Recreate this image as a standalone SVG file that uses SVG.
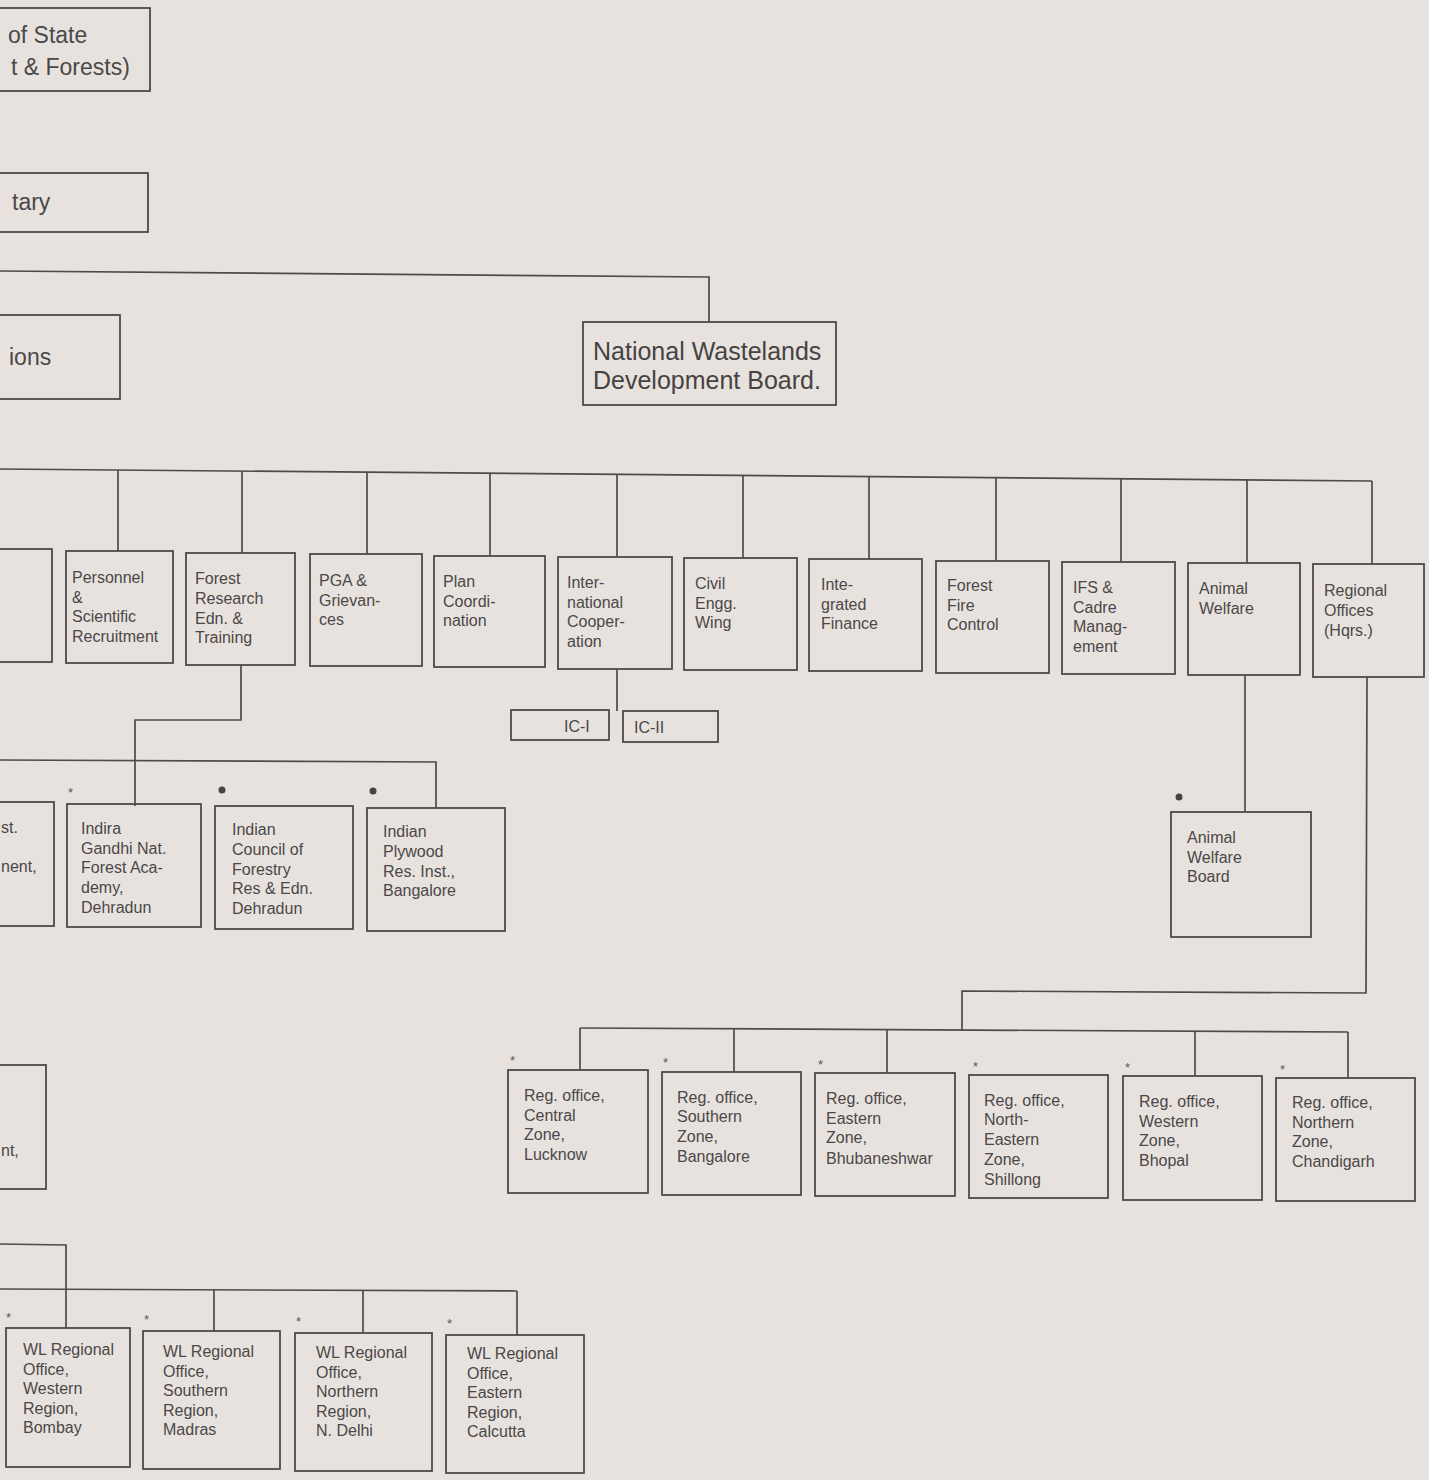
<svg xmlns="http://www.w3.org/2000/svg" width="1429" height="1480" viewBox="0 0 1429 1480">
<style>
.bg{fill:#e8e2de}
.box{fill:none;stroke:#4d4b4b;stroke-width:1.8}
.ln{fill:none;stroke:#4d4b4b;stroke-width:1.7}
.t{font-family:"Liberation Sans",Arial,sans-serif;font-size:16px;fill:#4a4848}
.tl{font-family:"Liberation Sans",Arial,sans-serif;font-size:23px;fill:#4a4848}
.tx{font-family:"Liberation Sans",Arial,sans-serif;font-size:25px;fill:#454343}
.ast{font-family:"Liberation Sans",Arial,sans-serif;font-size:13px;fill:#5a5858}
.dot{fill:#444}
</style>
<rect class="bg" x="0" y="0" width="1429" height="1480"/>

<g id="connectors">
  <polyline class="ln" points="0,271 709,277 709,322"/>
  <line class="ln" x1="0" y1="469" x2="1372" y2="481"/>
  <line class="ln" x1="118" y1="470" x2="118" y2="551"/>
  <line class="ln" x1="242" y1="471" x2="242" y2="553"/>
  <line class="ln" x1="367" y1="472" x2="367" y2="554"/>
  <line class="ln" x1="490" y1="473" x2="490" y2="556"/>
  <line class="ln" x1="617" y1="474" x2="617" y2="557"/>
  <line class="ln" x1="743" y1="475.5" x2="743" y2="558"/>
  <line class="ln" x1="869" y1="476.6" x2="869" y2="559"/>
  <line class="ln" x1="996" y1="477.7" x2="996" y2="561"/>
  <line class="ln" x1="1121" y1="478.8" x2="1121" y2="562"/>
  <line class="ln" x1="1247" y1="479.9" x2="1247" y2="563"/>
  <line class="ln" x1="1372" y1="481" x2="1372" y2="564"/>
  <line class="ln" x1="617" y1="669" x2="617" y2="711"/>
  <polyline class="ln" points="241,665 241,720 135,720 135,806"/>
  <polyline class="ln" points="0,760 436,762 436,808"/>
  <line class="ln" x1="1245" y1="675" x2="1245" y2="812"/>
  <polyline class="ln" points="1367,677 1366,993 962,991 962,1030"/>
  <line class="ln" x1="580" y1="1028" x2="1348" y2="1032"/>
  <line class="ln" x1="580" y1="1028" x2="580" y2="1070"/>
  <line class="ln" x1="734" y1="1029" x2="734" y2="1072"/>
  <line class="ln" x1="887" y1="1029.5" x2="887" y2="1073"/>
  <line class="ln" x1="1195" y1="1031" x2="1195" y2="1076"/>
  <line class="ln" x1="1348" y1="1032" x2="1348" y2="1078"/>
  <polyline class="ln" points="0,1244 66,1245 66,1328"/>
  <line class="ln" x1="0" y1="1289" x2="517" y2="1291"/>
  <line class="ln" x1="214" y1="1289.5" x2="214" y2="1331"/>
  <line class="ln" x1="363" y1="1290" x2="363" y2="1333"/>
  <line class="ln" x1="517" y1="1291" x2="517" y2="1335"/>
</g>

<g id="n-minister">
  <rect class="box" x="-10" y="8" width="160" height="83"/>
  <text class="tl" x="8" y="43">of State</text>
  <text class="tl" x="11" y="75">t &amp; Forests)</text>
</g>
<g id="n-secretary">
  <rect class="box" x="-10" y="173" width="158" height="59"/>
  <text class="tl" x="12" y="210">tary</text>
</g>
<g id="n-divisions">
  <rect class="box" x="-10" y="315" width="130" height="84"/>
  <text class="tl" x="9" y="365">ions</text>
</g>
<g id="n-nwdb">
  <rect class="box" x="583" y="322" width="253" height="83"/>
  <text class="tx" x="593" y="360">National Wastelands</text>
  <text class="tx" x="593" y="389">Development Board.</text>
</g>

<g id="n-partial1"><rect class="box" x="-10" y="549" width="62" height="113"/></g>
<g id="n-personnel">
  <rect class="box" x="66" y="551" width="107" height="112"/>
  <text class="t" x="72" y="583">Personnel</text>
  <text class="t" x="72" y="603">&amp;</text>
  <text class="t" x="72" y="622">Scientific</text>
  <text class="t" x="72" y="642">Recruitment</text>
</g>
<g id="n-forestresearch">
  <rect class="box" x="186" y="553" width="109" height="112"/>
  <text class="t" x="195" y="584">Forest</text>
  <text class="t" x="195" y="604">Research</text>
  <text class="t" x="195" y="624">Edn. &amp;</text>
  <text class="t" x="195" y="643">Training</text>
</g>
<g id="n-pga">
  <rect class="box" x="310" y="554" width="112" height="112"/>
  <text class="t" x="319" y="586">PGA &amp;</text>
  <text class="t" x="319" y="606">Grievan-</text>
  <text class="t" x="319" y="625">ces</text>
</g>
<g id="n-plan">
  <rect class="box" x="434" y="556" width="111" height="111"/>
  <text class="t" x="443" y="587">Plan</text>
  <text class="t" x="443" y="607">Coordi-</text>
  <text class="t" x="443" y="626">nation</text>
</g>
<g id="n-intl">
  <rect class="box" x="558" y="557" width="114" height="112"/>
  <text class="t" x="567" y="588">Inter-</text>
  <text class="t" x="567" y="608">national</text>
  <text class="t" x="567" y="627">Cooper-</text>
  <text class="t" x="567" y="647">ation</text>
</g>
<g id="n-civil">
  <rect class="box" x="684" y="558" width="113" height="112"/>
  <text class="t" x="695" y="589">Civil</text>
  <text class="t" x="695" y="609">Engg.</text>
  <text class="t" x="695" y="628">Wing</text>
</g>
<g id="n-finance">
  <rect class="box" x="809" y="559" width="113" height="112"/>
  <text class="t" x="821" y="590">Inte-</text>
  <text class="t" x="821" y="610">grated</text>
  <text class="t" x="821" y="629">Finance</text>
</g>
<g id="n-fire">
  <rect class="box" x="936" y="561" width="113" height="112"/>
  <text class="t" x="947" y="591">Forest</text>
  <text class="t" x="947" y="611">Fire</text>
  <text class="t" x="947" y="630">Control</text>
</g>
<g id="n-ifs">
  <rect class="box" x="1062" y="562" width="113" height="112"/>
  <text class="t" x="1073" y="593">IFS &amp;</text>
  <text class="t" x="1073" y="613">Cadre</text>
  <text class="t" x="1073" y="632">Manag-</text>
  <text class="t" x="1073" y="652">ement</text>
</g>
<g id="n-animal">
  <rect class="box" x="1188" y="563" width="112" height="112"/>
  <text class="t" x="1199" y="594">Animal</text>
  <text class="t" x="1199" y="614">Welfare</text>
</g>
<g id="n-regional">
  <rect class="box" x="1313" y="564" width="111" height="113"/>
  <text class="t" x="1324" y="596">Regional</text>
  <text class="t" x="1324" y="616">Offices</text>
  <text class="t" x="1324" y="636">(Hqrs.)</text>
</g>

<g id="n-ic1">
  <rect class="box" x="511" y="710" width="98" height="30"/>
  <text class="t" x="564" y="732">IC-I</text>
</g>
<g id="n-ic2">
  <rect class="box" x="623" y="711" width="95" height="31"/>
  <text class="t" x="634" y="733">IC-II</text>
</g>

<g id="n-partial2">
  <rect class="box" x="-10" y="802" width="64" height="124"/>
  <text class="t" x="1" y="833">st.</text>
  <text class="t" x="1" y="872">nent,</text>
</g>
<g id="n-ignfa">
  <rect class="box" x="67" y="804" width="134" height="123"/>
  <text class="ast" x="68" y="797">*</text>
  <text class="t" x="81" y="834">Indira</text>
  <text class="t" x="81" y="854">Gandhi Nat.</text>
  <text class="t" x="81" y="873">Forest Aca-</text>
  <text class="t" x="81" y="893">demy,</text>
  <text class="t" x="81" y="913">Dehradun</text>
</g>
<g id="n-icfre">
  <rect class="box" x="215" y="806" width="138" height="123"/>
  <circle class="dot" cx="222" cy="790" r="3.5"/>
  <text class="t" x="232" y="835">Indian</text>
  <text class="t" x="232" y="855">Council of</text>
  <text class="t" x="232" y="875">Forestry</text>
  <text class="t" x="232" y="894">Res &amp; Edn.</text>
  <text class="t" x="232" y="914">Dehradun</text>
</g>
<g id="n-iprii">
  <rect class="box" x="367" y="808" width="138" height="123"/>
  <circle class="dot" cx="373" cy="791" r="3.5"/>
  <text class="t" x="383" y="837">Indian</text>
  <text class="t" x="383" y="857">Plywood</text>
  <text class="t" x="383" y="877">Res. Inst.,</text>
  <text class="t" x="383" y="896">Bangalore</text>
</g>
<g id="n-awb">
  <rect class="box" x="1171" y="812" width="140" height="125"/>
  <circle class="dot" cx="1179" cy="797" r="3.5"/>
  <text class="t" x="1187" y="843">Animal</text>
  <text class="t" x="1187" y="863">Welfare</text>
  <text class="t" x="1187" y="882">Board</text>
</g>

<g id="n-partial3">
  <rect class="box" x="-10" y="1065" width="56" height="124"/>
  <text class="t" x="1" y="1156">nt,</text>
</g>

<g id="n-ro-central">
  <rect class="box" x="508" y="1070" width="140" height="123"/>
  <text class="ast" x="510" y="1065">*</text>
  <text class="t" x="524" y="1101">Reg. office,</text>
  <text class="t" x="524" y="1121">Central</text>
  <text class="t" x="524" y="1140">Zone,</text>
  <text class="t" x="524" y="1160">Lucknow</text>
</g>
<g id="n-ro-southern">
  <rect class="box" x="662" y="1072" width="139" height="123"/>
  <text class="ast" x="663" y="1067">*</text>
  <text class="t" x="677" y="1103">Reg. office,</text>
  <text class="t" x="677" y="1122">Southern</text>
  <text class="t" x="677" y="1142">Zone,</text>
  <text class="t" x="677" y="1162">Bangalore</text>
</g>
<g id="n-ro-eastern">
  <rect class="box" x="815" y="1073" width="140" height="123"/>
  <text class="ast" x="818" y="1069">*</text>
  <text class="t" x="826" y="1104">Reg. office,</text>
  <text class="t" x="826" y="1124">Eastern</text>
  <text class="t" x="826" y="1143">Zone,</text>
  <text class="t" x="826" y="1164">Bhubaneshwar</text>
</g>
<g id="n-ro-northeastern">
  <rect class="box" x="969" y="1075" width="139" height="123"/>
  <text class="ast" x="973" y="1071">*</text>
  <text class="t" x="984" y="1106">Reg. office,</text>
  <text class="t" x="984" y="1125">North-</text>
  <text class="t" x="984" y="1145">Eastern</text>
  <text class="t" x="984" y="1165">Zone,</text>
  <text class="t" x="984" y="1185">Shillong</text>
</g>
<g id="n-ro-western">
  <rect class="box" x="1123" y="1076" width="139" height="124"/>
  <text class="ast" x="1125" y="1072">*</text>
  <text class="t" x="1139" y="1107">Reg. office,</text>
  <text class="t" x="1139" y="1127">Western</text>
  <text class="t" x="1139" y="1146">Zone,</text>
  <text class="t" x="1139" y="1166">Bhopal</text>
</g>
<g id="n-ro-northern">
  <rect class="box" x="1276" y="1078" width="139" height="123"/>
  <text class="ast" x="1280" y="1074">*</text>
  <text class="t" x="1292" y="1108">Reg. office,</text>
  <text class="t" x="1292" y="1128">Northern</text>
  <text class="t" x="1292" y="1147">Zone,</text>
  <text class="t" x="1292" y="1167">Chandigarh</text>
</g>

<g id="n-wl-western">
  <rect class="box" x="6" y="1328" width="124" height="139"/>
  <text class="ast" x="6" y="1322">*</text>
  <text class="t" x="23" y="1355">WL Regional</text>
  <text class="t" x="23" y="1375">Office,</text>
  <text class="t" x="23" y="1394">Western</text>
  <text class="t" x="23" y="1414">Region,</text>
  <text class="t" x="23" y="1433">Bombay</text>
</g>
<g id="n-wl-southern">
  <rect class="box" x="143" y="1331" width="137" height="138"/>
  <text class="ast" x="144" y="1324">*</text>
  <text class="t" x="163" y="1357">WL Regional</text>
  <text class="t" x="163" y="1377">Office,</text>
  <text class="t" x="163" y="1396">Southern</text>
  <text class="t" x="163" y="1416">Region,</text>
  <text class="t" x="163" y="1435">Madras</text>
</g>
<g id="n-wl-northern">
  <rect class="box" x="295" y="1333" width="137" height="138"/>
  <text class="ast" x="296" y="1326">*</text>
  <text class="t" x="316" y="1358">WL Regional</text>
  <text class="t" x="316" y="1378">Office,</text>
  <text class="t" x="316" y="1397">Northern</text>
  <text class="t" x="316" y="1417">Region,</text>
  <text class="t" x="316" y="1436">N. Delhi</text>
</g>
<g id="n-wl-eastern">
  <rect class="box" x="446" y="1335" width="138" height="138"/>
  <text class="ast" x="447" y="1328">*</text>
  <text class="t" x="467" y="1359">WL Regional</text>
  <text class="t" x="467" y="1379">Office,</text>
  <text class="t" x="467" y="1398">Eastern</text>
  <text class="t" x="467" y="1418">Region,</text>
  <text class="t" x="467" y="1437">Calcutta</text>
</g>
</svg>
